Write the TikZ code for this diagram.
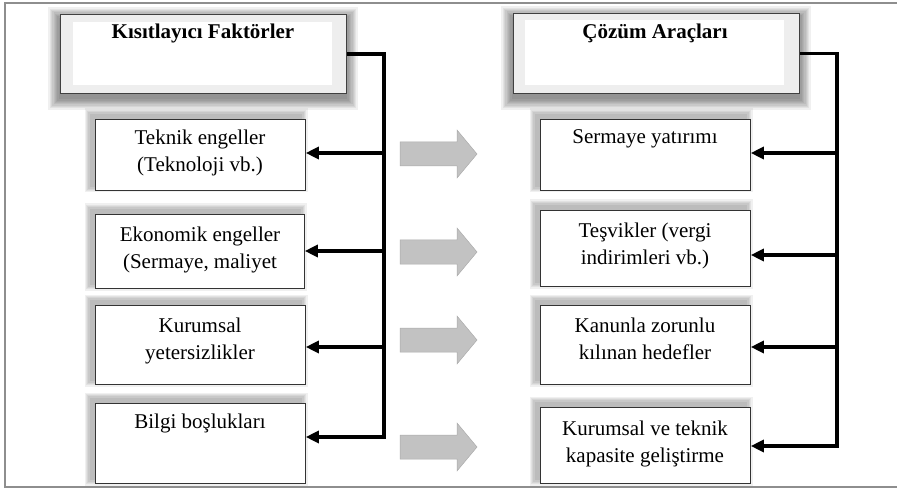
\documentclass[tikz,border=0pt]{standalone}
\usepackage{fontspec}
\setmainfont{Liberation Serif}
\usetikzlibrary{arrows.meta}
\definecolor{hdrfill}{HTML}{EEEEEE}
\definecolor{garrowfill}{HTML}{C2C2C2}
\definecolor{garrowline}{HTML}{ABABAB}
\definecolor{framecol}{HTML}{8E8E8E}
\newcommand\dropshade[8]{%
  \foreach \r in {1,...,#8}{%
    \fill[black,opacity=#7] ({#1-\r*1.3+#5},{#2-\r*1.3+#6}) rectangle ({#3+\r*1.3+#5},{#4+\r*1.3+#6});}}
\tikzset{
  box/.style={draw=black!80, line width=0.8pt, fill=white, inner sep=0pt, anchor=north west},
  hdr/.style={draw=black!75, line width=1pt, fill=hdrfill, inner sep=0pt, anchor=north west},
  hdrin/.style={fill=white, inner sep=0pt, anchor=north west},
  txt/.style={font=\fontsize{21}{26.5}\selectfont, align=center, inner sep=0pt, anchor=north},
  htxt/.style={font=\fontsize{21}{26.5}\selectfont\bfseries, align=center, inner sep=0pt, anchor=north},
  conn/.style={line width=3.2pt, line join=miter},
  arr/.style={conn, -{Triangle[length=13pt,width=12pt]}},
  garrow/.style={fill=garrowfill, draw=garrowline, line width=0.5pt},
  frameline/.style={draw=framecol, line width=1.4pt}
}
\begin{document}
\begin{tikzpicture}[x=1pt,y=-1pt]
\useasboundingbox (0,0) rectangle (897,489);
\draw[frameline] (897,3) -- (5,3) -- (5,487) -- (897,487);

% shadows
\dropshade{60}{14}{346}{93}{0}{5}{0.06}{9}
\dropshade{513}{13}{799}{93}{0}{5}{0.06}{9}
\dropshade{95}{119}{305}{190}{-4}{-4}{0.06}{5}
\dropshade{95}{214}{304}{288}{-4}{-4}{0.06}{5}
\dropshade{95}{305}{305}{384}{-4}{-4}{0.06}{5}
\dropshade{95}{403}{305}{483}{-4}{-4}{0.06}{5}
\dropshade{540}{119}{750}{190}{-4}{-4}{0.06}{5}
\dropshade{540}{210}{750}{286}{-4}{-4}{0.06}{5}
\dropshade{540}{305}{750}{384}{-4}{-4}{0.06}{5}
\dropshade{540}{407}{750}{483}{-4}{-4}{0.06}{5}

% headers
\node[hdr, minimum width=286pt, minimum height=79pt] (h1) at (60,14) {};
\node[hdrin, minimum width=259pt, minimum height=63pt] (h1in) at (73,22) {};
\node[htxt] (h1t) at (203,24) {Kısıtlayıcı Faktörler};
\node[hdr, minimum width=286pt, minimum height=80pt] (h2) at (513,13) {};
\node[hdrin, minimum width=259pt, minimum height=65pt] (h2in) at (525,20) {};
\node[htxt] (h2t) at (655,24) {Çözüm Araçları};

% left boxes
\node[box, minimum width=210pt, minimum height=71pt] (b1) at (95,119) {};
\node[box, minimum width=209pt, minimum height=74pt] (b2) at (95,214) {};
\node[box, minimum width=210pt, minimum height=79pt] (b3) at (95,305) {};
\node[box, minimum width=210pt, minimum height=80pt] (b4) at (95,403) {};
\node[txt] (b1t) at (200,130) {Teknik engeller\\(Teknoloji vb.)};
\node[txt] (b2t) at (200,227) {Ekonomik engeller\\(Sermaye, maliyet};
\node[txt] (b3t) at (200,318) {Kurumsal\\yetersizlikler};
\node[txt] (b4t) at (200,414) {Bilgi boşlukları};

% right boxes
\node[box, minimum width=210pt, minimum height=71pt] (r1) at (540,119) {};
\node[box, minimum width=210pt, minimum height=76pt] (r2) at (540,210) {};
\node[box, minimum width=210pt, minimum height=79pt] (r3) at (540,305) {};
\node[box, minimum width=210pt, minimum height=76pt] (r4) at (540,407) {};
\node[txt] (r1t) at (645,129) {Sermaye yatırımı};
\node[txt] (r2t) at (645,223) {Teşvikler (vergi\\indirimleri vb.)};
\node[txt] (r3t) at (645,318) {Kanunla zorunlu\\kılınan hedefler};
\node[txt] (r4t) at (645,421) {Kurumsal ve teknik\\kapasite geliştirme};

% left connectors
\coordinate (la1) at (384,153);
\coordinate (la2) at (384,251);
\coordinate (la3) at (384,347);
\coordinate (la4) at (384,437);
\draw[arr] (h1.east) -| (la4) -- (la4 -| b4.east);
\draw[arr] (la1) -- (la1 -| b1.east);
\draw[arr] (la2) -- (la2 -| b2.east);
\draw[arr] (la3) -- (la3 -| b3.east);

% right connectors
\coordinate (ra1) at (837,153);
\coordinate (ra2) at (837,255);
\coordinate (ra3) at (837,347);
\coordinate (ra4) at (837,446);
\draw[arr] (h2.east) -| (ra4) -- (ra4 -| r4.east);
\draw[arr] (ra1) -- (ra1 -| r1.east);
\draw[arr] (ra2) -- (ra2 -| r2.east);
\draw[arr] (ra3) -- (ra3 -| r3.east);

% gray block arrows
\foreach \yc in {154,252,340,447}{
  \draw[garrow] (400,{\yc-12}) -- (457,{\yc-12}) -- (457,{\yc-24}) -- (477,\yc)
     -- (457,{\yc+24}) -- (457,{\yc+12}) -- (400,{\yc+12}) -- cycle;
}
\end{tikzpicture}
\end{document}
